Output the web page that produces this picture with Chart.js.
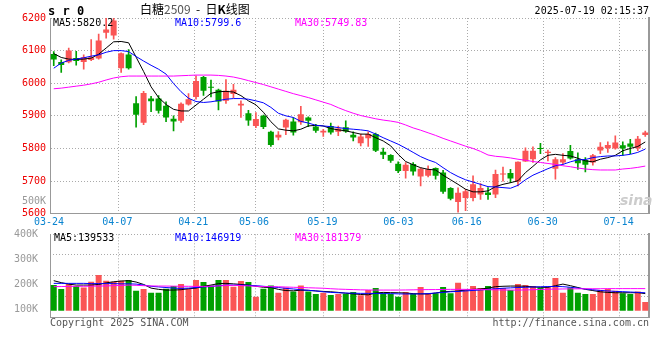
<!DOCTYPE html>
<html>
<head>
<meta charset="utf-8">
<script src="https://cdn.jsdelivr.net/npm/chart.js@4.4.1/dist/chart.umd.min.js"></script>
<style>
body{margin:0;background:#fff;}
#wrap{position:relative;width:660px;height:360px;font-family:'DejaVu Sans Mono',monospace;font-size:10px;}
#wrap canvas{position:absolute;left:0;top:0;}
.t{position:absolute;white-space:pre;line-height:12px;}
</style>
</head>
<body>
<div id="wrap">
<canvas id="priceChart" width="660" height="360"></canvas>
<canvas id="volChart" width="660" height="360"></canvas>

<div class="t" style="left:48px;top:4px;font-weight:bold;font-size:12px;line-height:14px">s r 0</div>
<div class="t" style="left:140px;top:2px;font-family:'Noto Sans CJK SC';font-size:12px;line-height:14px">白糖<span style="color:#555">2509</span>&nbsp;&nbsp;-&nbsp;&nbsp;日<b>K</b>线图</div>
<div class="t" style="right:11px;top:5px">2025-07-19 02:15:37</div>

<div class="t" style="left:53px;top:17px;color:#000">MA5:5820.2</div>
<div class="t" style="left:175px;top:17px;color:#0000ff">MA10:5799.6</div>
<div class="t" style="left:295px;top:17px;color:#ff00ff">MA30:5749.83</div>

<div class="t" style="right:614px;top:195px;color:#999">500K</div>

<div class="t" style="left:54px;top:232px;color:#000">MA5:139533</div>
<div class="t" style="left:175px;top:232px;color:#0000ff">MA10:146919</div>
<div class="t" style="left:295px;top:232px;color:#ff00ff">MA30:181379</div>

<div class="t" style="left:620px;top:194px;font-family:'DejaVu Sans';font-style:italic;font-weight:bold;font-size:14px;color:#cccccc">sina</div>

<div class="t" style="left:50px;top:317px;color:#555">Copyright 2025 SINA.COM</div>
<div class="t" style="right:11px;top:317px;color:#555">http://finance.sina.com.cn</div>
</div>

<script>
// trading days shown (2025)
var dates = ['03-24','03-25','03-26','03-27','03-28','03-31','04-01','04-02','04-03',
  '04-07','04-08','04-09','04-10','04-11','04-14','04-15','04-16','04-17','04-18',
  '04-21','04-22','04-23','04-24','04-25','04-28','04-29','04-30',
  '05-06','05-07','05-08','05-09','05-12','05-13','05-14','05-15','05-16',
  '05-19','05-20','05-21','05-22','05-23','05-26','05-27','05-28','05-29','05-30',
  '06-03','06-04','06-05','06-06','06-09','06-10','06-11','06-12','06-13',
  '06-16','06-17','06-18','06-19','06-20','06-23','06-24','06-25','06-26','06-27',
  '06-30','07-01','07-02','07-03','07-04','07-07','07-08','07-09','07-10','07-11',
  '07-14','07-15','07-16','07-17','07-18'];
var axisDates = ['03-24','04-07','04-21','05-06','05-19','06-03','06-16','06-30','07-14'];

var openP  = [6090,6065,6064,6077,6065,6071,6076,6155,6146,6046,6088,5939,5879,5953,5953,5931,5891,5885,5935,5958,
              6019,5988,5980,5946,5967,5932,5908,5869,5900,5851,5834,5864,5883,5880,5895,5867,5849,5869,5851,5865,
              5842,5816,5831,5844,5790,5780,5753,5731,5752,5714,5716,5740,5726,5679,5636,5648,5648,5659,5665,5659,
              5720,5725,5699,5760,5767,5800,5786,5738,5757,5792,5767,5765,5757,5794,5801,5800,5810,5815,5801,5841];
var highP  = [6097,6072,6108,6098,6087,6134,6151,6200,6200,6093,6103,5959,5975,5960,5962,5943,5900,5940,5968,6023,
              6021,6010,5982,6011,5997,5946,5917,5910,5902,5853,5852,5890,5895,5929,5897,5874,5859,5878,5869,5885,
              5851,5844,5851,5847,5801,5781,5759,5757,5757,5741,5747,5741,5733,5680,5679,5675,5716,5692,5680,5734,
              5743,5736,5759,5802,5805,5816,5795,5772,5784,5810,5787,5772,5782,5818,5820,5839,5820,5828,5837,5853];
var lowP   = [6054,6033,6062,6055,6043,6069,6074,6138,6135,6033,6043,5865,5873,5913,5908,5882,5854,5880,5933,5951,
              5963,5958,5918,5938,5956,5895,5871,5864,5861,5806,5826,5842,5841,5874,5867,5849,5837,5844,5839,5849,
              5823,5808,5806,5790,5769,5757,5726,5709,5718,5685,5713,5706,5662,5642,5605,5609,5639,5644,5644,5649,
              5700,5695,5685,5760,5757,5784,5762,5706,5752,5767,5736,5728,5749,5784,5788,5798,5779,5784,5793,5837];
var closeP = [6073,6056,6100,6068,6080,6080,6131,6165,6192,6092,6046,5903,5970,5945,5916,5895,5883,5937,5951,6007,
              5977,5986,5944,5977,5980,5937,5886,5890,5866,5811,5842,5888,5849,5905,5885,5854,5854,5849,5861,5852,
              5834,5837,5844,5793,5781,5762,5731,5750,5729,5738,5736,5716,5667,5646,5664,5669,5690,5679,5657,5722,
              5723,5708,5759,5793,5793,5798,5790,5767,5767,5769,5755,5750,5779,5805,5811,5818,5800,5805,5830,5849];

var ma5  = [6091,6079,6074,6073,6074,6077,6089,6108,6127,6128,6124,6080,6036,5989,5956,5935,5920,5915,5915,5933,
            5951,5969,5974,5975,5973,5962,5946,5934,5911,5882,5860,5856,5854,5859,5869,5871,5869,5861,5857,5854,
            5849,5844,5844,5833,5823,5808,5782,5760,5750,5741,5736,5734,5718,5704,5690,5675,5667,5667,5670,5683,
            5690,5695,5701,5726,5745,5765,5779,5782,5779,5777,5770,5762,5759,5767,5772,5779,5793,5800,5806,5820];
var ma10 = [6046,6062,6070,6074,6078,6083,6087,6095,6100,6100,6097,6082,6068,6055,6043,6028,5999,5974,5954,5944,
            5941,5943,5947,5951,5953,5953,5951,5946,5940,5926,5908,5900,5895,5883,5878,5871,5869,5867,5864,5861,
            5859,5857,5854,5844,5833,5823,5813,5801,5788,5775,5765,5757,5741,5726,5714,5704,5697,5690,5683,5682,
            5680,5678,5687,5704,5718,5728,5738,5747,5751,5759,5765,5766,5772,5775,5777,5777,5779,5782,5788,5798];
var ma30 = [5983,5985,5988,5991,5994,5998,6003,6010,6016,6020,6022,6022,6022,6022,6022,6022,6022,6023,6024,6025,
            6025,6025,6024,6022,6019,6014,6008,6002,5996,5989,5982,5975,5968,5962,5956,5949,5942,5935,5925,5916,
            5908,5901,5896,5891,5887,5884,5880,5872,5863,5856,5848,5840,5831,5823,5815,5807,5800,5791,5780,5776,
            5774,5771,5767,5764,5760,5757,5754,5751,5747,5744,5740,5737,5735,5734,5734,5734,5737,5739,5742,5746];

// volume, in thousands of lots
var volume = [210,177,218,202,191,237,292,246,237,246,251,164,177,147,147,180,202,218,180,251,
              235,207,251,251,197,243,235,115,180,207,147,191,158,207,158,137,147,128,137,137,
              153,126,169,186,142,137,115,153,137,194,142,142,194,142,229,169,202,186,202,268,
              186,169,218,210,202,191,191,268,147,191,147,137,137,169,177,164,142,137,158,71];
var volMa5  = [246,230,218,210,210,210,215,228,237,243,246,235,215,185,175,169,169,172,180,185,
               200,210,222,224,220,215,210,200,192,190,175,165,163,168,167,162,158,155,150,143,
               138,133,130,145,150,148,147,145,140,138,137,145,155,158,161,170,175,178,185,197,
               200,202,202,200,195,192,191,205,218,205,190,175,165,155,150,147,147,147,148,140];
var volMa10 = [224,224,224,224,224,222,222,222,222,220,220,218,210,200,195,190,185,183,185,190,
               195,198,205,210,210,210,208,205,200,195,190,183,178,172,167,162,155,150,147,145,
               143,142,142,141,140,140,138,137,137,138,140,145,150,155,158,162,166,170,175,180,
               184,187,190,192,194,196,198,199,197,192,185,178,172,166,162,158,156,153,150,147];
var volMa30 = [197,198,199,200,200,201,202,203,205,207,210,208,205,203,202,202,201,200,200,199,
               199,200,203,206,208,206,203,200,198,197,196,194,192,190,188,186,184,180,177,175,
               173,171,170,169,169,169,169,170,171,172,173,173,174,175,175,175,174,173,172,171,
               170,169,169,170,172,174,176,177,178,179,179,180,180,180,181,181,181,181,181,181];
var volTicks = [100, 200, 300, 400];

var upColor = '#fa5555';
var downColor = '#00a000';
var dirColors = closeP.map(function(c, i){ return c >= openP[i] ? upColor : downColor; });

var monoFont = {family:"'DejaVu Sans Mono', monospace", size:10};
var gridColor = '#aaaaaa';
var frameColor = '#999999';

// date grid / labels sit on their own linear axis (sina spaces them a bit wider than the candles)
function dateAxis(showLabels, h) {
	return {
		type:'linear', position:'bottom', min:0, max:78.87, offset:false,
		afterBuildTicks: function(s){ s.ticks = axisDates.map(function(d){ return {value: dates.indexOf(d)}; }); },
		ticks:{display:showLabels, autoSkip:false, maxRotation:0, color:'#0a84d0', font:monoFont, padding:3, labelOffset:-1,
			callback:function(v){ return dates[v]; }},
		grid:{color:gridColor, drawTicks:false, offset:false},
		border:{color:frameColor, dash:[1,2]},
		afterFit:function(s){ s.height = h; }
	};
}

function lineSet(data, color, axis) {
	return {type:'line', data:data, borderColor:color, borderWidth:1, pointRadius:0, tension:0, fill:false, yAxisID:axis, order:0};
}

var priceChart = new Chart(document.getElementById('priceChart').getContext('2d'), {
	type:'bar',
	data:{
		labels:dates,
		datasets:[
			{data:lowP.map(function(l,i){ return [l, highP[i]]; }), backgroundColor:dirColors, barThickness:1, grouped:false, yAxisID:'y', order:2},
			{data:openP.map(function(o,i){ return [o, closeP[i]]; }), backgroundColor:dirColors, barPercentage:0.8, categoryPercentage:1, minBarLength:1, grouped:false, yAxisID:'y', order:1},
			lineSet(ma30, '#ff00ff', 'y'),
			lineSet(ma10, '#0000ff', 'y'),
			lineSet(ma5, '#000000', 'y')
		]
	},
	options:{
		responsive:false, animation:false,
		layout:{padding:{top:18, right:11, left:0, bottom:128.3}},
		plugins:{legend:{display:false}, tooltip:{enabled:false}},
		scales:{
			x:{type:'category', display:false, offset:true},
			xd:dateAxis(true, 18),
			y:{position:'left', min:5600, max:6200,
				ticks:{stepSize:100, color:'#ee0000', font:monoFont, padding:4, callback:function(v){ return String(v); }},
				grid:{color:gridColor, drawTicks:false},
				border:{color:frameColor, dash:[1,2]},
				afterFit:function(s){ s.width = 50; }},
			yr:{position:'right', min:5600, max:6200, ticks:{display:false}, grid:{display:false},
				border:{color:frameColor, width:2},
				afterFit:function(s){ s.width = 0; }}
		}
	}
});

var volChart = new Chart(document.getElementById('volChart').getContext('2d'), {
	type:'bar',
	data:{
		labels:dates,
		datasets:[
			{data:volume, backgroundColor:dirColors, barPercentage:0.8, categoryPercentage:1, yAxisID:'yv', order:1},
			lineSet(volMa30, '#ff00ff', 'yv'),
			lineSet(volMa10, '#0000ff', 'yv'),
			lineSet(volMa5, '#000000', 'yv')
		]
	},
	options:{
		responsive:false, animation:false,
		layout:{padding:{top:234.3, right:11, left:0, bottom:43}},
		plugins:{legend:{display:false}, tooltip:{enabled:false}},
		scales:{
			x:{type:'category', display:false, offset:true},
			xd:dateAxis(false, 0),
			yl:{position:'left', min:70, max:400,
				afterBuildTicks:function(s){ s.ticks = volTicks.map(function(v){ return {value:v}; }); },
				ticks:{color:'#999999', font:monoFont, padding:4, callback:function(v){ return v + 'K'; }},
				grid:{display:false},
				border:{color:frameColor},
				afterFit:function(s){ s.width = 50; }},
			yv:{position:'right', min:-51.6, max:626, ticks:{display:false, count:5},
				grid:{color:gridColor, drawTicks:false},
				border:{color:frameColor, width:2, dash:[1,2]},
				afterFit:function(s){ s.width = 0; }}
		}
	}
});
</script>
</body>
</html>
